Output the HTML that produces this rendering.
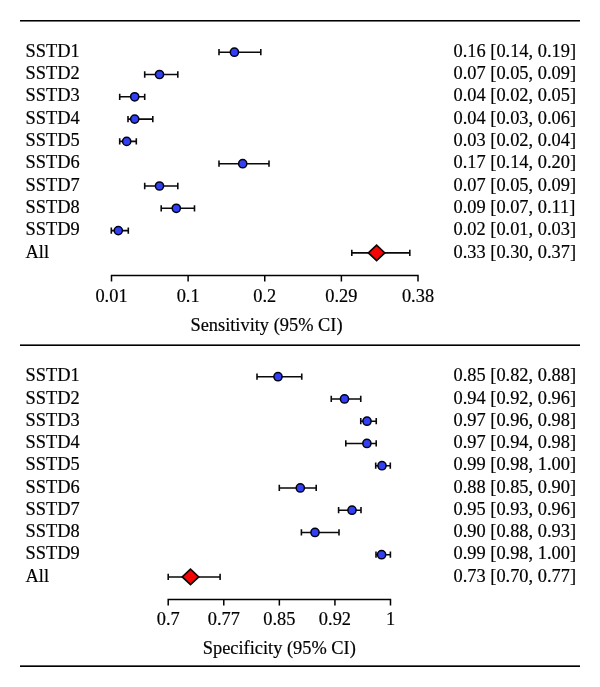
<!DOCTYPE html>
<html><head><meta charset="utf-8"><style>
html,body{margin:0;padding:0;background:#fff;}
svg{display:block;}
.t{opacity:0.999;}
text{font-family:"Liberation Serif", serif;font-size:19px;fill:#000;stroke:#000;stroke-width:0.2px;}
</style></head><body>
<svg width="600" height="687" viewBox="0 0 600 687">
<rect x="20" y="20.0" width="560" height="1.55" fill="#000"/>
<rect x="20" y="344.4" width="560" height="1.6" fill="#000"/>
<rect x="20" y="665.35" width="560" height="1.65" fill="#000"/>
<path d="M219.00 52.20H260.80M219.00 49.05V55.35M260.80 49.05V55.35" stroke="#0a0a0a" stroke-width="1.6" fill="none"/>
<circle cx="234.40" cy="52.20" r="4.1" fill="#3040f2" stroke="#000012" stroke-width="1.5"/>
<path d="M144.70 74.50H177.80M144.70 71.35V77.65M177.80 71.35V77.65" stroke="#0a0a0a" stroke-width="1.6" fill="none"/>
<circle cx="159.50" cy="74.50" r="4.1" fill="#3040f2" stroke="#000012" stroke-width="1.5"/>
<path d="M119.70 96.80H144.70M119.70 93.65V99.95M144.70 93.65V99.95" stroke="#0a0a0a" stroke-width="1.6" fill="none"/>
<circle cx="134.70" cy="96.80" r="4.1" fill="#3040f2" stroke="#000012" stroke-width="1.5"/>
<path d="M128.00 119.10H152.80M128.00 115.95V122.25M152.80 115.95V122.25" stroke="#0a0a0a" stroke-width="1.6" fill="none"/>
<circle cx="134.70" cy="119.10" r="4.1" fill="#3040f2" stroke="#000012" stroke-width="1.5"/>
<path d="M119.70 141.40H136.30M119.70 138.25V144.55M136.30 138.25V144.55" stroke="#0a0a0a" stroke-width="1.6" fill="none"/>
<circle cx="126.70" cy="141.40" r="4.1" fill="#3040f2" stroke="#000012" stroke-width="1.5"/>
<path d="M219.00 163.70H269.00M219.00 160.55V166.85M269.00 160.55V166.85" stroke="#0a0a0a" stroke-width="1.6" fill="none"/>
<circle cx="242.70" cy="163.70" r="4.1" fill="#3040f2" stroke="#000012" stroke-width="1.5"/>
<path d="M144.70 186.00H177.80M144.70 182.85V189.15M177.80 182.85V189.15" stroke="#0a0a0a" stroke-width="1.6" fill="none"/>
<circle cx="159.50" cy="186.00" r="4.1" fill="#3040f2" stroke="#000012" stroke-width="1.5"/>
<path d="M161.20 208.30H194.50M161.20 205.15V211.45M194.50 205.15V211.45" stroke="#0a0a0a" stroke-width="1.6" fill="none"/>
<circle cx="176.30" cy="208.30" r="4.1" fill="#3040f2" stroke="#000012" stroke-width="1.5"/>
<path d="M111.30 230.60H128.30M111.30 227.45V233.75M128.30 227.45V233.75" stroke="#0a0a0a" stroke-width="1.6" fill="none"/>
<circle cx="118.30" cy="230.60" r="4.1" fill="#3040f2" stroke="#000012" stroke-width="1.5"/>
<path d="M351.80 252.90H409.80M351.80 249.75V256.05M409.80 249.75V256.05" stroke="#0a0a0a" stroke-width="1.6" fill="none"/>
<path d="M368.40 252.90L376.60 245.20L384.80 252.90L376.60 260.60Z" fill="#f50606" stroke="#080808" stroke-width="1.7" stroke-linejoin="miter"/>
<path d="M111.50 281.53V275.53H418.00V281.53" stroke="#000" stroke-width="1.5" fill="none"/>
<path d="M188.12 275.53V281.53" stroke="#000" stroke-width="1.5"/>
<path d="M264.75 275.53V281.53" stroke="#000" stroke-width="1.5"/>
<path d="M341.38 275.53V281.53" stroke="#000" stroke-width="1.5"/>
<path d="M257.00 376.70H301.75M257.00 373.55V379.85M301.75 373.55V379.85" stroke="#0a0a0a" stroke-width="1.6" fill="none"/>
<circle cx="278.00" cy="376.70" r="4.1" fill="#3040f2" stroke="#000012" stroke-width="1.5"/>
<path d="M331.25 398.95H360.75M331.25 395.80V402.10M360.75 395.80V402.10" stroke="#0a0a0a" stroke-width="1.6" fill="none"/>
<circle cx="344.50" cy="398.95" r="4.1" fill="#3040f2" stroke="#000012" stroke-width="1.5"/>
<path d="M360.75 421.20H376.25M360.75 418.05V424.35M376.25 418.05V424.35" stroke="#0a0a0a" stroke-width="1.6" fill="none"/>
<circle cx="367.00" cy="421.20" r="4.1" fill="#3040f2" stroke="#000012" stroke-width="1.5"/>
<path d="M345.80 443.45H376.20M345.80 440.30V446.60M376.20 440.30V446.60" stroke="#0a0a0a" stroke-width="1.6" fill="none"/>
<circle cx="366.90" cy="443.45" r="4.1" fill="#3040f2" stroke="#000012" stroke-width="1.5"/>
<path d="M375.70 465.70H390.30M375.70 462.55V468.85M390.30 462.55V468.85" stroke="#0a0a0a" stroke-width="1.6" fill="none"/>
<circle cx="382.00" cy="465.70" r="4.1" fill="#3040f2" stroke="#000012" stroke-width="1.5"/>
<path d="M279.30 487.95H316.20M279.30 484.80V491.10M316.20 484.80V491.10" stroke="#0a0a0a" stroke-width="1.6" fill="none"/>
<circle cx="300.30" cy="487.95" r="4.1" fill="#3040f2" stroke="#000012" stroke-width="1.5"/>
<path d="M338.60 510.20H361.00M338.60 507.05V513.35M361.00 507.05V513.35" stroke="#0a0a0a" stroke-width="1.6" fill="none"/>
<circle cx="352.00" cy="510.20" r="4.1" fill="#3040f2" stroke="#000012" stroke-width="1.5"/>
<path d="M301.40 532.45H339.00M301.40 529.30V535.60M339.00 529.30V535.60" stroke="#0a0a0a" stroke-width="1.6" fill="none"/>
<circle cx="315.00" cy="532.45" r="4.1" fill="#3040f2" stroke="#000012" stroke-width="1.5"/>
<path d="M376.00 554.70H390.40M376.00 551.55V557.85M390.40 551.55V557.85" stroke="#0a0a0a" stroke-width="1.6" fill="none"/>
<circle cx="381.60" cy="554.70" r="4.1" fill="#3040f2" stroke="#000012" stroke-width="1.5"/>
<path d="M168.20 576.95H220.10M168.20 573.80V580.10M220.10 573.80V580.10" stroke="#0a0a0a" stroke-width="1.6" fill="none"/>
<path d="M182.30 576.95L190.50 569.25L198.70 576.95L190.50 584.65Z" fill="#f50606" stroke="#080808" stroke-width="1.7" stroke-linejoin="miter"/>
<path d="M168.20 605.55V599.55H390.50V605.55" stroke="#000" stroke-width="1.5" fill="none"/>
<path d="M223.77 599.55V605.55" stroke="#000" stroke-width="1.5"/>
<path d="M279.35 599.55V605.55" stroke="#000" stroke-width="1.5"/>
<path d="M334.93 599.55V605.55" stroke="#000" stroke-width="1.5"/>
<g class="t">
<text transform="translate(25.5 56.80) scale(0.968 1)">SSTD1</text>
<text transform="translate(453.5 56.80) scale(0.968 1)">0.16 [0.14, 0.19]</text>
<text transform="translate(25.5 79.10) scale(0.968 1)">SSTD2</text>
<text transform="translate(453.5 79.10) scale(0.968 1)">0.07 [0.05, 0.09]</text>
<text transform="translate(25.5 101.40) scale(0.968 1)">SSTD3</text>
<text transform="translate(453.5 101.40) scale(0.968 1)">0.04 [0.02, 0.05]</text>
<text transform="translate(25.5 123.70) scale(0.968 1)">SSTD4</text>
<text transform="translate(453.5 123.70) scale(0.968 1)">0.04 [0.03, 0.06]</text>
<text transform="translate(25.5 146.00) scale(0.968 1)">SSTD5</text>
<text transform="translate(453.5 146.00) scale(0.968 1)">0.03 [0.02, 0.04]</text>
<text transform="translate(25.5 168.30) scale(0.968 1)">SSTD6</text>
<text transform="translate(453.5 168.30) scale(0.968 1)">0.17 [0.14, 0.20]</text>
<text transform="translate(25.5 190.60) scale(0.968 1)">SSTD7</text>
<text transform="translate(453.5 190.60) scale(0.968 1)">0.07 [0.05, 0.09]</text>
<text transform="translate(25.5 212.90) scale(0.968 1)">SSTD8</text>
<text transform="translate(453.5 212.90) scale(0.968 1)">0.09 [0.07, 0.11]</text>
<text transform="translate(25.5 235.20) scale(0.968 1)">SSTD9</text>
<text transform="translate(453.5 235.20) scale(0.968 1)">0.02 [0.01, 0.03]</text>
<text transform="translate(25.5 257.50) scale(0.968 1)">All</text>
<text transform="translate(453.5 257.50) scale(0.968 1)">0.33 [0.30, 0.37]</text>
<text transform="translate(111.50 301.8) scale(0.968 1)" text-anchor="middle">0.01</text>
<text transform="translate(188.12 301.8) scale(0.968 1)" text-anchor="middle">0.1</text>
<text transform="translate(264.75 301.8) scale(0.968 1)" text-anchor="middle">0.2</text>
<text transform="translate(341.38 301.8) scale(0.968 1)" text-anchor="middle">0.29</text>
<text transform="translate(418.00 301.8) scale(0.968 1)" text-anchor="middle">0.38</text>
<text transform="translate(266.5 330.7) scale(0.968 1)" text-anchor="middle">Sensitivity (95% CI)</text>
<text transform="translate(25.5 381.30) scale(0.968 1)">SSTD1</text>
<text transform="translate(453.5 381.30) scale(0.968 1)">0.85 [0.82, 0.88]</text>
<text transform="translate(25.5 403.55) scale(0.968 1)">SSTD2</text>
<text transform="translate(453.5 403.55) scale(0.968 1)">0.94 [0.92, 0.96]</text>
<text transform="translate(25.5 425.80) scale(0.968 1)">SSTD3</text>
<text transform="translate(453.5 425.80) scale(0.968 1)">0.97 [0.96, 0.98]</text>
<text transform="translate(25.5 448.05) scale(0.968 1)">SSTD4</text>
<text transform="translate(453.5 448.05) scale(0.968 1)">0.97 [0.94, 0.98]</text>
<text transform="translate(25.5 470.30) scale(0.968 1)">SSTD5</text>
<text transform="translate(453.5 470.30) scale(0.968 1)">0.99 [0.98, 1.00]</text>
<text transform="translate(25.5 492.55) scale(0.968 1)">SSTD6</text>
<text transform="translate(453.5 492.55) scale(0.968 1)">0.88 [0.85, 0.90]</text>
<text transform="translate(25.5 514.80) scale(0.968 1)">SSTD7</text>
<text transform="translate(453.5 514.80) scale(0.968 1)">0.95 [0.93, 0.96]</text>
<text transform="translate(25.5 537.05) scale(0.968 1)">SSTD8</text>
<text transform="translate(453.5 537.05) scale(0.968 1)">0.90 [0.88, 0.93]</text>
<text transform="translate(25.5 559.30) scale(0.968 1)">SSTD9</text>
<text transform="translate(453.5 559.30) scale(0.968 1)">0.99 [0.98, 1.00]</text>
<text transform="translate(25.5 581.55) scale(0.968 1)">All</text>
<text transform="translate(453.5 581.55) scale(0.968 1)">0.73 [0.70, 0.77]</text>
<text transform="translate(168.20 625.3) scale(0.968 1)" text-anchor="middle">0.7</text>
<text transform="translate(223.77 625.3) scale(0.968 1)" text-anchor="middle">0.77</text>
<text transform="translate(279.35 625.3) scale(0.968 1)" text-anchor="middle">0.85</text>
<text transform="translate(334.93 625.3) scale(0.968 1)" text-anchor="middle">0.92</text>
<text transform="translate(390.50 625.3) scale(0.968 1)" text-anchor="middle">1</text>
<text transform="translate(279.3 653.7) scale(0.968 1)" text-anchor="middle">Specificity (95% CI)</text>
</g>
</svg>
</body></html>
